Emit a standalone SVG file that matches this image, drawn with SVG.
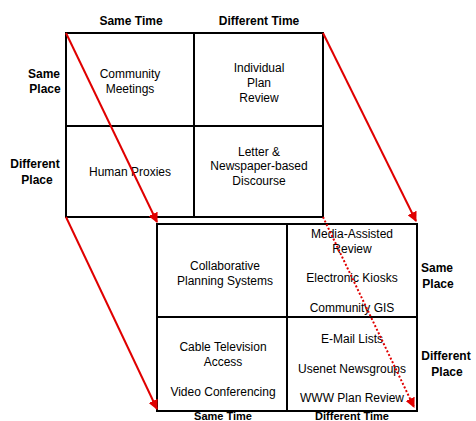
<svg xmlns="http://www.w3.org/2000/svg" width="476" height="421" viewBox="0 0 476 421">
<style>
.t{font-family:"Liberation Sans",Arial,sans-serif;font-size:12px;fill:#000;text-anchor:middle}
.b{font-weight:bold}
.s{font-size:11px}
.grid{fill:none;stroke:#000;stroke-width:2}
.arr{stroke:#e00000;stroke-width:2;fill:none}
</style>
<defs>
<marker id="ah" markerWidth="10" markerHeight="10" refX="9" refY="5" orient="auto" markerUnits="userSpaceOnUse">
<path d="M0,0 L10,5 L0,10 z" fill="#e00000"/>
</marker>
</defs>
<rect width="476" height="421" fill="#fff"/>
<g id="top-grid">
<rect class="grid" x="66" y="33" width="257" height="184"/>
<line class="grid" x1="194" y1="33" x2="194" y2="217"/>
<line class="grid" x1="66" y1="126" x2="323" y2="126"/>
</g>
<g id="bottom-grid">
<rect class="grid" x="157" y="224" width="260" height="187"/>
<line class="grid" x1="287" y1="224" x2="287" y2="411"/>
<line class="grid" x1="157" y1="317" x2="417" y2="317"/>
</g>
<g id="top-labels">
<text class="t b" x="131" y="25">Same Time</text>
<text class="t b" x="259" y="25">Different Time</text>
<text class="t b" x="44" y="78">Same</text>
<text class="t b" x="45" y="93">Place</text>
<text class="t b" x="35" y="168">Different</text>
<text class="t b" x="37" y="184">Place</text>
</g>
<g id="bottom-labels">
<text class="t b s" x="223" y="420">Same Time</text>
<text class="t b s" x="352" y="420">Different Time</text>
<text class="t b" x="437" y="272">Same</text>
<text class="t b" x="438" y="288">Place</text>
<text class="t b" x="446" y="360">Different</text>
<text class="t b" x="447" y="376">Place</text>
</g>
<g id="cell-community-meetings">
<text class="t" x="130" y="78">Community</text>
<text class="t" x="130" y="93">Meetings</text>
</g>
<g id="cell-individual-plan-review">
<text class="t" x="259" y="72">Individual</text>
<text class="t" x="259" y="87">Plan</text>
<text class="t" x="259" y="102">Review</text>
</g>
<g id="cell-human-proxies">
<text class="t" x="130" y="176">Human Proxies</text>
</g>
<g id="cell-letter">
<text class="t" x="259" y="156">Letter &amp;</text>
<text class="t" x="259" y="170">Newspaper-based</text>
<text class="t" x="259" y="185">Discourse</text>
</g>
<g id="cell-collaborative">
<text class="t" x="225" y="270">Collaborative</text>
<text class="t" x="225" y="285">Planning Systems</text>
</g>
<g id="cell-media">
<text class="t" x="352" y="238">Media-Assisted</text>
<text class="t" x="352" y="253">Review</text>
<text class="t" x="352" y="282">Electronic Kiosks</text>
<text class="t" x="352" y="312">Community GIS</text>
</g>
<g id="cell-cable">
<text class="t" x="223" y="351">Cable Television</text>
<text class="t" x="223" y="366">Access</text>
<text class="t" x="223" y="396">Video Conferencing</text>
</g>
<g id="cell-email">
<text class="t" x="352" y="343">E-Mail Lists</text>
<text class="t" x="352" y="373">Usenet Newsgroups</text>
<text class="t" x="352" y="402">WWW Plan Review</text>
</g>
<g id="connectors">
<line class="arr" x1="66" y1="33" x2="157" y2="222" marker-end="url(#ah)"/>
<line class="arr" x1="66" y1="217" x2="157" y2="409" marker-end="url(#ah)"/>
<line class="arr" x1="323" y1="33" x2="416" y2="221" marker-end="url(#ah)"/>
<line class="arr" x1="323" y1="217" x2="414" y2="407" stroke-dasharray="2,2" marker-end="url(#ah)"/>
</g>
</svg>
